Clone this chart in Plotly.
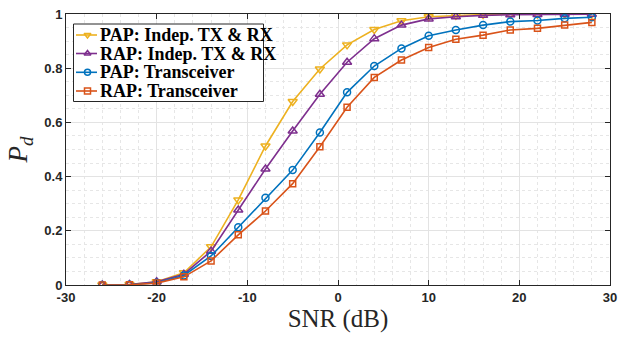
import plotly.graph_objects as go

snr = [-26, -23, -20, -17, -14, -11, -8, -5, -2, 1, 4, 7, 10, 13, 16, 19, 22, 25, 28]
pap_indep = [0.0, 0.002, 0.012, 0.045, 0.141, 0.314, 0.513, 0.677, 0.797, 0.886, 0.943, 0.975, 0.990, 0.995, 0.998, 0.999, 0.999, 1.0, 1.0]
rap_indep = [0.0, 0.002, 0.012, 0.040, 0.125, 0.277, 0.428, 0.568, 0.704, 0.822, 0.909, 0.959, 0.982, 0.990, 0.995, 0.997, 0.998, 0.999, 0.999]
pap_trans = [0.0, 0.001, 0.008, 0.035, 0.107, 0.213, 0.322, 0.424, 0.563, 0.711, 0.808, 0.873, 0.920, 0.941, 0.959, 0.972, 0.976, 0.984, 0.988]
rap_trans = [0.0, 0.001, 0.007, 0.030, 0.089, 0.185, 0.273, 0.374, 0.510, 0.656, 0.766, 0.830, 0.876, 0.907, 0.922, 0.941, 0.947, 0.959, 0.969]

x_ticks = [-30, -20, -10, 0, 10, 20, 30]
x_tick_labels = ["-30", "-20", "-10", "0", "10", "20", "30"]
y_ticks = [0, 0.2, 0.4, 0.6, 0.8, 1]
y_tick_labels = ["0", "0.2", "0.4", "0.6", "0.8", "1"]

names = ["PAP: Indep. TX &amp; RX", "RAP: Indep. TX &amp; RX", "PAP: Transceiver", "RAP: Transceiver"]
colors = ["#EDB120", "#7E2F8E", "#0072BD", "#D95319"]
symbols = ["triangle-down-open", "triangle-up-open", "circle-open", "square-open"]
sizes = [8, 8, 7, 6]
series = [pap_indep, rap_indep, pap_trans, rap_trans]

# plot-area pixel frame used only for the hand-built legend box
L, R, T, B = 66, 610, 14, 285

fig = go.Figure()
for name, ys, c, s, sz in zip(names, series, colors, symbols, sizes):
    fig.add_trace(go.Scatter(
        x=snr, y=ys, mode="lines+markers", name=name, showlegend=False,
        line=dict(color=c, width=1.6),
        marker=dict(symbol=s, size=sz, color=c, line=dict(color=c, width=1.5)),
    ))

# legend (MATLAB-style compact box) on an overlay axis in pixel units
box_x0, box_x1, box_y0, box_y1 = 73.5, 263.5, 24, 101.5
row_y = [35, 53.5, 72.3, 91]
fig.add_trace(go.Scatter(
    x=[box_x0, box_x1, box_x1, box_x0, box_x0], y=[box_y0, box_y0, box_y1, box_y1, box_y0],
    xaxis="x2", yaxis="y2", mode="lines", fill="toself", fillcolor="white",
    line=dict(color="#262626", width=1), showlegend=False, hoverinfo="skip",
))
for name, ry, c, s in zip(names, row_y, colors, symbols):
    fig.add_trace(go.Scatter(
        x=[76, 97], y=[ry, ry], xaxis="x2", yaxis="y2", mode="lines",
        line=dict(color=c, width=1.6), showlegend=False, hoverinfo="skip",
    ))
    fig.add_trace(go.Scatter(
        x=[87.5], y=[ry], xaxis="x2", yaxis="y2", mode="markers",
        marker=dict(symbol=s, size=6, color=c, line=dict(color=c, width=1.5)),
        showlegend=False, hoverinfo="skip",
    ))
    fig.add_annotation(
        x=98, y=ry, xref="x2", yref="y2", text="<b>" + name + "</b>", showarrow=False,
        xanchor="left", yanchor="middle",
        font=dict(family="Liberation Serif", size=18, color="black"),
    )

axis_common = dict(
    showline=True, linecolor="#262626", linewidth=1, mirror="allticks",
    ticks="inside", ticklen=5, tickcolor="#262626",
    showgrid=True, gridcolor="#E3E3E3", gridwidth=1,
    zeroline=False, automargin=False,
    tickfont=dict(family="Liberation Sans", size=13, color="#262626", weight="bold"),
)

fig.update_layout(
    xaxis=dict(
        range=[-30, 30], tickmode="array", tickvals=x_ticks, ticktext=x_tick_labels,
        minor=dict(dtick=2, showgrid=True, gridcolor="#E6E6E6", griddash="dot", ticks=""),
        title=dict(text="SNR (dB)", font=dict(family="Liberation Serif", size=25, color="#262626"), standoff=4),
        **axis_common,
    ),
    yaxis=dict(
        range=[0, 1], tickmode="array", tickvals=y_ticks, ticktext=y_tick_labels,
        minor=dict(dtick=0.05, showgrid=True, gridcolor="#E6E6E6", griddash="dot", ticks=""),
        title=dict(text="<i>P</i><sub><i>d</i></sub>", font=dict(family="Liberation Serif", size=27, color="#262626"), standoff=8),
        **axis_common,
    ),
    xaxis2=dict(range=[L, R], overlaying="x", visible=False, fixedrange=True),
    yaxis2=dict(range=[B, T], overlaying="y", visible=False, fixedrange=True),
    width=637, height=337,
    margin=dict(l=66, r=27, t=14, b=52),
    plot_bgcolor="white", paper_bgcolor="white",
    showlegend=False,
)

fig.write_html(
    "out.html",
    config={"displayModeBar": False},
    post_script="document.body.style.margin='0';document.body.style.overflow='hidden';",
)
